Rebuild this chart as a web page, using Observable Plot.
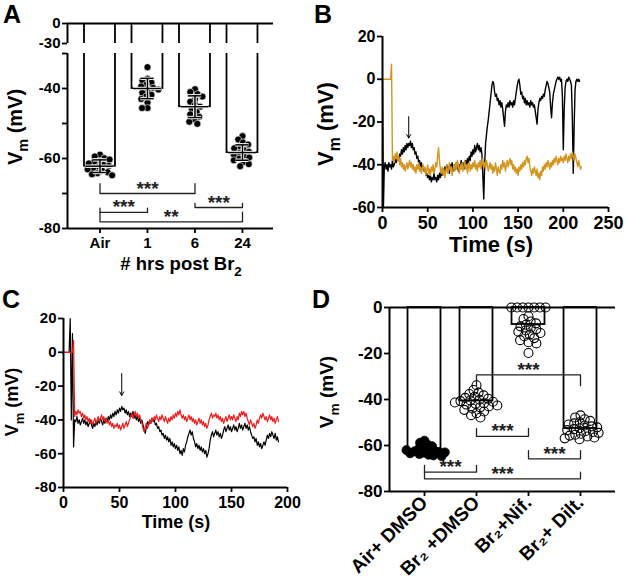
<!DOCTYPE html>
<html><head><meta charset="utf-8">
<script src="https://cdn.jsdelivr.net/npm/d3@7"></script>
<script src="https://cdn.jsdelivr.net/npm/@observablehq/plot@0.6"></script>
<style>
body{margin:0;background:#fff;}
#fig{position:relative;width:625px;height:585px;overflow:hidden;background:#fff;}
#fig svg{position:absolute;overflow:visible;}
#fig svg g[aria-label^="x-axis"] line,#fig svg g[aria-label^="y-axis"] line,
#fig svg g[aria-label="x-axis tick"] path,#fig svg g[aria-label="y-axis tick"] path{stroke-width:1.8px;}
#pA g[aria-label^="y-axis"] text,#pAt g[aria-label^="y-axis"] text{font-size:15px;}
#pA g[aria-label^="x-axis"] text{font-size:15px;}
#pB g[aria-label^="y-axis"] text{font-size:16px;}
#pB g[aria-label^="x-axis"] text{font-size:18px;}
#pC g[aria-label^="y-axis"] text{font-size:15px;}
#pC g[aria-label^="x-axis"] text{font-size:16px;}
#pD g[aria-label^="y-axis"] text{font-size:17px;}
#pD g[aria-label^="x-axis"] text{font-size:19px;}
</style></head><body><div id="fig"></div>
<script>
// ---------------- DATA ----------------
// Panel A: resting Vm by hours post Br2
const A_cats = ["Air", "1", "6", "24"];
const A_air = [-58.9, -59.4, -59.9, -60.3, -60.7, -61.0, -61.4, -61.8, -62.1, -62.4, -62.8, -63.1, -63.5, -63.9, -64.2, -64.5, -64.8];
const A_h1 = [-33.9, -37.2, -37.8, -38.3, -38.9, -39.4, -39.8, -40.3, -40.7, -41.2, -41.8, -42.3, -43.0, -44.0, -45.6, -45.6];
const A_h6 = [-40.2, -41.0, -41.6, -42.3, -43.0, -43.8, -44.6, -45.2, -45.9, -46.7, -47.4, -48.1, -48.8, -49.5, -50.1];
const A_h24 = [-53.6, -54.6, -55.4, -56.0, -56.6, -57.1, -57.6, -58.1, -58.5, -58.9, -59.3, -59.7, -60.1, -60.5, -61.0, -61.6, -62.2];
const A_mean = [-62.2, -40.0, -45.2, -58.3];
const A_sd = [1.8, 2.9, 3.1, 2.2];
const A_brackets = [
  {a: 0, b: 2, y: -70.0, tip: -67.2, label: "***"},
  {a: 0, b: 1, y: -75.4, tip: -74.2, label: "***"},
  {a: 0, b: 3, y: -78.1, tip: -75.3, label: "**"},
  {a: 2, b: 3, y: -74.0, tip: -72.8, label: "***"}
];

// Panel B: Vm traces (1 s per sample)
const B_black = [
 0,-60,-41,-39,-42,-40,-43,-39,-41,-40,
 -42,-38,-41,-40,-37,-39,-38,-36,-38,-35,
 -36,-33,-35,-32,-34,-31,-33,-30,-32,-30,
 -31,-29,-32,-30,-33,-32,-35,-34,-37,-36,
 -39,-38,-41,-39,-42,-41,-43,-42,-45,-44,
 -46,-45,-47,-45,-48,-46,-47,-44,-47,-46,
 -48,-45,-47,-44,-46,-43,-45,-42,-44,-41,
 -43,-40,-42,-41,-44,-40,-42,-39,-43,-41,
 -40,-42,-39,-41,-43,-40,-42,-38,-41,-39,
 -42,-40,-38,-41,-37,-39,-36,-38,-34,-36,
 -33,-35,-31,-34,-32,-30,-33,-31,-34,-32,
 -35,-45,-56,-40,-30,-26,-22,-19,-15,-11,
 -7,-3,-1,-2,-6,-8,-7,-10,-9,-12,
 -10,-13,-11,-14,-18,-22,-15,-12,-13,-11,
 -13,-10,-12,-11,-13,-10,-12,-9,-6,-3,
 -1,0,-3,-7,-6,-9,-8,-11,-9,-12,
 -10,-12,-11,-13,-10,-12,-11,-13,-12,-15,
 -18,-21,-14,-11,-9,-10,-8,-9,-7,-8,
 -5,-3,-1,-2,-4,-6,-13,-18,-11,-7,
 -5,-3,-1,0,1,0,1,-1,0,-8,
 -33,-14,-4,-1,0,-1,1,0,-1,-3,
 -18,-44,-22,-5,-1,0,-1,0,-1
];
const B_orange = [
 0,0,0,0,0,0,0,0,0,0,
 7,-38,-36,-39,-35,-37,-34,-38,-36,-40,
 -37,-41,-39,-42,-40,-43,-41,-39,-42,-40,
 -38,-41,-39,-42,-40,-43,-41,-44,-40,-42,
 -39,-43,-41,-44,-42,-40,-43,-41,-45,-42,
 -40,-44,-42,-45,-41,-43,-40,-44,-42,-39,
 -41,-36,-32,-38,-42,-44,-41,-45,-42,-46,
 -43,-40,-44,-42,-39,-43,-41,-45,-42,-40,
 -43,-39,-42,-38,-41,-44,-40,-42,-39,-43,
 -41,-38,-42,-40,-44,-41,-39,-43,-40,-42,
 -39,-41,-38,-42,-40,-43,-39,-41,-38,-42,
 -40,-37,-41,-39,-42,-38,-40,-43,-41,-39,
 -42,-40,-44,-41,-43,-39,-42,-45,-41,-43,
 -44,-40,-42,-38,-41,-39,-43,-40,-38,-41,
 -39,-37,-40,-38,-42,-40,-43,-41,-44,-42,
 -45,-41,-43,-40,-42,-39,-41,-38,-40,-37,
 -36,-39,-37,-41,-43,-45,-42,-44,-41,-43,
 -45,-42,-46,-44,-47,-43,-45,-41,-43,-40,
 -42,-39,-41,-38,-40,-42,-39,-41,-38,-40,
 -37,-39,-36,-38,-40,-37,-39,-36,-38,-37,
 -39,-36,-38,-35,-37,-39,-36,-38,-35,-37,
 -34,-36,-38,-35,-37,-39,-41,-38,-40,-42,-41
];
const B_arrow = [{t: 29, from: -17.5, to: -27.5}];

// Panel C: Vm traces (1 s per sample)
const C_black = [
 0,0,0,0,0,0,20,-40,11,-56,
 -40,-41,-38,-42,-40,-43,-41,-39,-42,-40,
 -43,-41,-44,-42,-40,-43,-45,-42,-44,-41,
 -43,-40,-42,-39,-41,-43,-40,-42,-39,-41,
 -38,-40,-37,-39,-36,-38,-35,-37,-34,-36,
 -33,-35,-32,-34,-33,-36,-34,-37,-35,-38,
 -36,-38,-35,-39,-37,-40,-38,-41,-39,-42,
 -40,-43,-46,-48,-44,-41,-43,-40,-42,-39,
 -41,-40,-43,-42,-45,-44,-47,-46,-49,-48,
 -51,-49,-52,-50,-53,-51,-55,-53,-56,-54,
 -57,-55,-58,-56,-60,-58,-61,-57,-59,-55,
 -53,-50,-48,-46,-49,-47,-51,-53,-56,-54,
 -57,-55,-58,-56,-59,-57,-60,-58,-62,-60,
 -57,-52,-49,-47,-50,-48,-46,-49,-47,-50,
 -48,-51,-49,-46,-44,-47,-45,-43,-46,-44,
 -47,-45,-43,-46,-44,-47,-45,-42,-45,-43,
 -46,-44,-42,-45,-43,-46,-44,-47,-49,-51,
 -50,-53,-51,-55,-53,-56,-54,-57,-55,-53,
 -55,-52,-49,-51,-48,-50,-47,-49,-51,-48,
 -52,-50,-53
];
const C_red = [
 0,0,0,0,0,0,0,0,0,7,
 -38,-35,-37,-34,-36,-35,-38,-36,-39,-37,
 -40,-38,-41,-39,-42,-40,-43,-41,-39,-42,
 -40,-38,-41,-39,-37,-40,-38,-41,-39,-42,
 -40,-43,-41,-44,-42,-45,-43,-44,-42,-45,
 -43,-46,-44,-42,-45,-43,-41,-44,-42,-40,
 -38,-36,-39,-37,-35,-38,-36,-39,-37,-40,
 -42,-45,-47,-44,-42,-45,-43,-40,-42,-39,
 -41,-38,-40,-37,-39,-41,-38,-40,-37,-39,
 -41,-38,-40,-42,-39,-41,-38,-40,-37,-39,
 -36,-38,-35,-37,-34,-37,-39,-37,-40,-38,
 -41,-39,-37,-40,-38,-41,-39,-42,-40,-43,
 -41,-39,-42,-40,-43,-41,-44,-42,-45,-43,
 -40,-38,-36,-39,-37,-38,-36,-39,-37,-40,
 -38,-41,-39,-42,-40,-38,-41,-39,-37,-40,
 -38,-40,-37,-39,-41,-38,-40,-36,-38,-35,
 -37,-35,-38,-36,-39,-41,-43,-40,-42,-44,
 -42,-45,-43,-40,-42,-39,-37,-39,-36,-38,
 -40,-38,-41,-39,-37,-40,-38,-41,-39,-42,
 -40,-38,-41
];
const C_arrow = [{t: 52, from: -12.5, to: -25.5}];

// Panel D: resting Vm by treatment
const D_cats = ["Air+ DMSO", "Br\u2082 +DMSO", "Br\u2082+Nif.", "Br\u2082+ Dilt."];
const D_air = [-57.9, -58.8, -59.6, -60.3, -60.9, -61.4, -61.8, -62.2, -62.5, -62.8, -63.1, -63.4, -63.7, -64.0, -64.3, -64.6, -62.0, -63.0];
const D_dmso = [-33.8, -35.9, -37.0, -37.6, -38.2, -38.8, -39.3, -39.7, -40.1, -40.4, -40.7, -41.0, -41.3, -41.6, -41.9, -42.2, -42.6, -43.0, -43.4, -43.9, -44.5, -45.2, -46.0, -46.8, -47.8];
const D_nif = [0, 0, 0, 0, 0, 0, 0, -3.8, -5.0, -6.1, -6.9, -7.5, -8.2, -8.8, -9.4, -10.0, -10.5, -11.1, -11.8, -12.5, -13.3, -14.2, -15.1, -15.6, -19.8];
const D_dilt = [-46.9, -47.8, -48.6, -49.3, -49.9, -50.4, -50.9, -51.3, -51.7, -52.1, -52.5, -52.9, -53.3, -53.7, -54.1, -54.5, -54.9, -55.3, -55.7, -56.1, -56.5, -56.9, -57.3];
const D_mean = [-62.3, -40.6, -7.4, -52.6];
const D_brackets = [
  {a: 0, b: 1, y: -71.6, tip: -68.7, label: "***"},
  {a: 0, b: 3, y: -74.5, tip: -71.6, label: "***"},
  {a: 1, b: 2, y: -56.0, tip: -52.6, label: "***"},
  {a: 2, b: 3, y: -65.8, tip: -62.2, label: "***"},
  {a: 1, b: 3, y: -29.3, tip: -34.0, label: "***"}
];

// ---------------- HELPERS ----------------
const FONT = '"Liberation Sans", Arial, Helvetica, sans-serif';
const fig = document.getElementById("fig");
const st = (size) => `background:transparent;overflow:visible;font-family:${FONT};font-weight:bold;font-size:${size}px;color:black;`;
function place(svg, left, top, id) {
  svg.style.position = "absolute";
  svg.style.left = left + "px";
  svg.style.top = top + "px";
  if (id) svg.setAttribute("id", id);
  fig.appendChild(svg);
}
const bracketPts = (list) => list.flatMap((b, k) => [
  {k, x: b.a, y: b.tip}, {k, x: b.a, y: b.y}, {k, x: b.b, y: b.y}, {k, x: b.b, y: b.tip}
]);
const bracketMarks = (list) => [
  Plot.line(bracketPts(list), {x: "x", y: "y", z: "k", stroke: "#222", strokeWidth: 1.3}),
  Plot.text(list, {x: d => (d.a + d.b) / 2, y: "y", text: "label", dy: -5, fontSize: 19, fontWeight: "bold", fill: "#222"})
];

// ---------------- PANEL A ----------------
const A_groups = [A_air, A_h1, A_h6, A_h24];
const A_bars = A_cats.map((c, i) => ({i, cat: c, mean: A_mean[i], sd: A_sd[i]}));
const A_dots = A_cats.flatMap((c, i) => A_groups[i].map(v => ({cat: c, i, v})));
const A_xdom = [-0.684, 3.653];
const HW_A = 0.326;

// upper segment of broken axis (0 to -30)
place(Plot.plot({
  width: 300, height: 60, marginLeft: 67, marginRight: 27, marginTop: 23, marginBottom: 17,
  style: st(15),
  x: {domain: A_xdom, axis: null},
  y: {domain: [-30, 0], ticks: [0, -30], tickFormat: d => String(d), tickSize: 5, tickPadding: 2, label: null},
  marks: [
    Plot.rectY(A_bars, {x1: d => d.i - HW_A, x2: d => d.i + HW_A, y1: 0, y2: -45, fill: "white", stroke: "black", strokeWidth: 1.8, clip: true}),
    Plot.ruleY([0], {strokeWidth: 2}),
    Plot.ruleX([A_xdom[0]], {strokeWidth: 2})
  ]
}), 0, 0, "pAt");

// lower segment (-30 to -80)
place(Plot.plot({
  width: 300, height: 290, marginLeft: 67, marginRight: 27, marginTop: 53, marginBottom: 62,
  style: st(15),
  x: {domain: A_xdom, ticks: [0, 1, 2, 3], tickFormat: i => A_cats[i], tickSize: 5, tickPadding: 4, label: null},
  y: {domain: [-80, -30], ticks: [-30, -40, -50, -60, -70, -80], tickFormat: d => (d % 20 === 0 ? String(d) : ""), tickSize: 5, tickPadding: 2, label: null},
  marks: [
    Plot.rectY(A_bars, {x1: d => d.i - HW_A, x2: d => d.i + HW_A, y1: -15, y2: "mean", fill: "white", stroke: "black", strokeWidth: 1.8, clip: true}),
    ...bracketMarks(A_brackets),
    Plot.ruleY([-80], {strokeWidth: 2}),
    Plot.ruleX([A_xdom[0]], {strokeWidth: 2})
  ]
}), 0, 0, "pA");

// dots (beeswarm per group)
place(Plot.plot({
  width: 300, height: 290, marginLeft: 75.75, marginRight: 34.25, marginTop: 53, marginBottom: 62,
  style: st(15),
  facet: {data: A_dots, x: "cat"},
  fx: {domain: A_cats, padding: 0, round: false, axis: null, label: null},
  y: {domain: [-80, -30], axis: null},
  marks: [
    Plot.dot(A_dots, Plot.dodgeX({anchor: "middle", padding: -1.5}, {y: "v", r: 3.5, fill: "black", stroke: "white", strokeWidth: 0.6}))
  ]
}), 0, 0, "pAd");

// mean +- SD
const errMarks = (data, hw, cap, color, w) => [
  Plot.ruleY(data, {y: "mean", x1: d => d.i - hw, x2: d => d.i + hw, stroke: color, strokeWidth: w}),
  Plot.ruleX(data, {x: "i", y1: d => d.mean - d.sd, y2: d => d.mean + d.sd, stroke: color, strokeWidth: w}),
  Plot.ruleY(data, {y: d => d.mean - d.sd, x1: d => d.i - cap, x2: d => d.i + cap, stroke: color, strokeWidth: w}),
  Plot.ruleY(data, {y: d => d.mean + d.sd, x1: d => d.i - cap, x2: d => d.i + cap, stroke: color, strokeWidth: w})
];
place(Plot.plot({
  width: 300, height: 290, marginLeft: 67, marginRight: 27, marginTop: 53, marginBottom: 62,
  style: st(15),
  x: {domain: A_xdom, axis: null},
  y: {domain: [-80, -30], axis: null},
  marks: [...errMarks(A_bars, HW_A * 0.9, 0.14, "white", 3.4), ...errMarks(A_bars, HW_A * 0.9, 0.14, "black", 1.5)]
}), 0, 0, "pAe");

// ---------------- PANEL B ----------------
place(Plot.plot({
  width: 325, height: 290, marginLeft: 82, marginRight: 17, marginTop: 36, marginBottom: 83,
  style: st(16),
  x: {domain: [0, 250], ticks: [0, 50, 100, 150, 200, 250], tickFormat: d => String(d), tickSize: 5, tickPadding: 4, label: null},
  y: {domain: [-60, 20], ticks: [20, 0, -20, -40, -60], tickFormat: d => String(d), tickSize: 5, tickPadding: 2, label: null},
  marks: [
    Plot.line(B_black, {x: (d, i) => i, y: d => d, stroke: "black", strokeWidth: 1.4}),
    Plot.line(B_orange, {x: (d, i) => i, y: d => d, stroke: "#d4951f", strokeWidth: 1.4}),
    Plot.arrow(B_arrow, {x1: "t", x2: "t", y1: "from", y2: "to", stroke: "black", strokeWidth: 1, headLength: 6}),
    Plot.ruleX([0], {strokeWidth: 2}),
    Plot.ruleY([-60], {strokeWidth: 2})
  ]
}), 300, 0, "pB");

// ---------------- PANEL C ----------------
place(Plot.plot({
  width: 310, height: 295, marginLeft: 63, marginRight: 23, marginTop: 28, marginBottom: 98,
  style: st(15),
  x: {domain: [0, 200], ticks: [0, 50, 100, 150, 200], tickFormat: d => String(d), tickSize: 5, tickPadding: 4, label: null},
  y: {domain: [-80, 20], ticks: [20, 0, -20, -40, -60, -80], tickFormat: d => String(d), tickSize: 5, tickPadding: 2, label: null},
  marks: [
    Plot.line(C_black, {x: (d, i) => i, y: d => d, stroke: "black", strokeWidth: 1.2}),
    Plot.line(C_red, {x: (d, i) => i, y: d => d, stroke: "#ee1c1c", strokeWidth: 1.2}),
    Plot.arrow(C_arrow, {x1: "t", x2: "t", y1: "from", y2: "to", stroke: "black", strokeWidth: 1, headLength: 6}),
    Plot.ruleX([0], {strokeWidth: 2}),
    Plot.ruleY([-80], {strokeWidth: 2})
  ]
}), 0, 290, "pC");

// ---------------- PANEL D ----------------
const D_groups = [D_air, D_dmso, D_nif, D_dilt];
const D_bars = D_cats.map((c, i) => ({i, cat: c, mean: D_mean[i]}));
const D_dots = D_cats.flatMap((c, i) => D_groups[i].map(v => ({cat: c, i, v})));
const D_xdom = [-0.673, 3.673];
const HW_D = 0.317;
place(Plot.plot({
  width: 315, height: 295, marginLeft: 79, marginRight: 10, marginTop: 17, marginBottom: 94,
  style: st(17),
  x: {domain: D_xdom, ticks: [0, 1, 2, 3], tickFormat: i => D_cats[i], tickRotate: -45, tickSize: 5, tickPadding: 3, label: null},
  y: {domain: [-80, 0], ticks: [0, -20, -40, -60, -80], tickFormat: d => String(d), tickSize: 5, tickPadding: 2, label: null},
  marks: [
    Plot.rectY(D_bars, {x1: d => d.i - HW_D, x2: d => d.i + HW_D, y1: 0, y2: "mean", fill: "white", stroke: "black", strokeWidth: 1.8}),
    ...bracketMarks(D_brackets),
    Plot.ruleY([0], {strokeWidth: 2}),
    Plot.ruleY([-80], {strokeWidth: 2}),
    Plot.ruleX([D_xdom[0]], {strokeWidth: 2})
  ]
}), 310, 290, "pD");

place(Plot.plot({
  width: 315, height: 295, marginLeft: 88, marginRight: 19, marginTop: 17, marginBottom: 94,
  style: st(17),
  facet: {data: D_dots, x: "cat"},
  fx: {domain: D_cats, padding: 0, round: false, axis: null, label: null},
  y: {domain: [-80, 0], axis: null},
  marks: [
    Plot.dot(D_dots, Plot.dodgeX({anchor: "middle", padding: -4.1}, {filter: d => d.i === 0, y: "v", r: 4.5, fill: "black", stroke: "black", strokeWidth: 0.8})),
    Plot.dot(D_dots, Plot.dodgeX({anchor: "middle", padding: -3.3}, {filter: d => d.i !== 0, y: "v", r: 4.5, fill: "none", stroke: "black", strokeWidth: 1.1}))
  ]
}), 310, 290, "pDd");

// ---------------- TITLES & PANEL LETTERS ----------------
const ov = d3.create("svg").attr("width", 625).attr("height", 585)
  .attr("font-family", FONT).attr("font-weight", "bold")
  .style("position", "absolute").style("left", "0px").style("top", "0px").style("pointer-events", "none");
const letter = (t, x, y) => ov.append("text").attr("x", x).attr("y", y).attr("font-size", 25).text(t);
letter("A", 3, 23); letter("B", 314, 23); letter("C", 2, 308); letter("D", 312, 308);
function yTitle(cx, cy, size) {
  const t = ov.append("text").attr("transform", `translate(${cx},${cy}) rotate(-90)`)
    .attr("text-anchor", "middle").attr("dy", "0.36em").attr("font-size", size);
  t.append("tspan").text("V");
  t.append("tspan").attr("font-size", size * 0.72).attr("dy", size * 0.3).text("m");
  t.append("tspan").attr("dy", -size * 0.3).text(" (mV)");
}
function xTitle(cx, base, size, main, sub) {
  const t = ov.append("text").attr("x", cx).attr("y", base).attr("text-anchor", "middle").attr("font-size", size);
  t.append("tspan").text(main);
  if (sub) t.append("tspan").attr("font-size", size * 0.72).attr("dy", size * 0.3).text(sub);
}
yTitle(15, 127, 20); xTitle(181, 270, 18.5, "# hrs post Br", "2");
yTitle(325, 124, 22); xTitle(491, 252, 22, "Time (s)");
yTitle(12, 402, 18); xTitle(176, 528, 18, "Time (s)");
yTitle(326, 392, 19);
fig.appendChild(ov.node());
</script></body></html>
